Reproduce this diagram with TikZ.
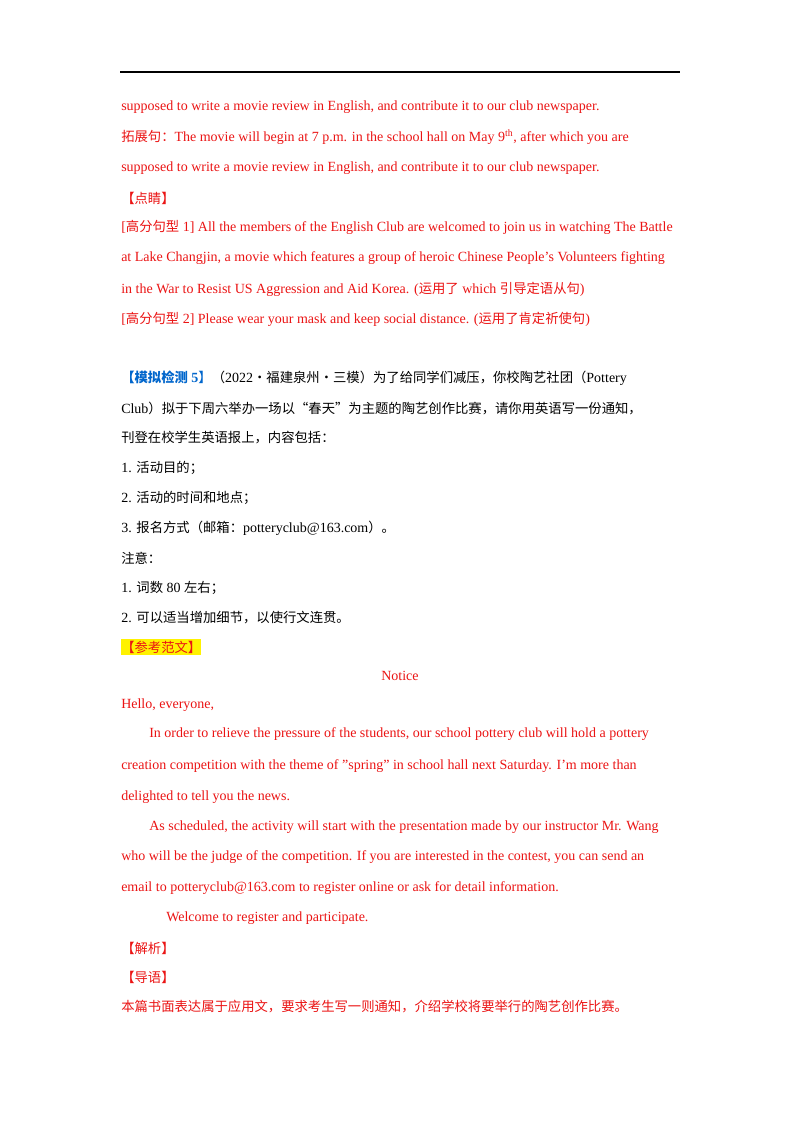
\documentclass[tikz,border=0pt]{standalone}
\usepackage{fontspec}
\setmainfont{Liberation Serif}
\newfontfamily\cjkf{Noto Sans CJK SC}
\newcommand\zh[1]{{\cjkf\fontsize{10pt}{12pt}\selectfont #1}}
\definecolor{txtred}{RGB}{235,20,20}
\definecolor{hdblue}{RGB}{0,102,204}
\begin{document}
\begin{tikzpicture}[x=0.75pt,y=-0.75pt,
  ln/.style={anchor=west,inner sep=0pt,font=\fontsize{10.5pt}{12pt}\selectfont},
  rd/.style={ln,text=txtred}]
\useasboundingbox (0,0) rectangle (800,1132);
\fill[white] (0,0) rectangle (800,1132);
\coordinate (ra) at (120,72); \coordinate (rb) at (680,72);
\draw[line width=0.8pt] (ra) -- (rb);
\node[rd] (t1) at (121,107) {supposed to write a movie review in English, and contribute it to our club newspaper.};
\node[rd] (t2) at (121,137) {\zh{拓展句：}The movie will begin at 7 p.m. in the school hall on May 9\textsuperscript{th}, after which you are};
\node[rd] (t3) at (121,168) {supposed to write a movie review in English, and contribute it to our club newspaper.};
\node[rd] (t4) at (121,198) {\zh{【点睛】}};
\node[rd] (t5) at (121,227) {[\zh{高分句型} 1] All the members of the English Club are welcomed to join us in watching The Battle};
\node[rd] (t6) at (121,258) {at Lake Changjin, a movie which features a group of heroic Chinese People’s Volunteers fighting};
\node[rd] (t7) at (121,289) {in the War to Resist US Aggression and Aid Korea. (\zh{运用了} which \zh{引导定语从句})};
\node[rd] (t8) at (121,319) {[\zh{高分句型} 2] Please wear your mask and keep social distance. (\zh{运用了肯定祈使句})};
\node[ln] (m1) at (121,378) {{\color{hdblue}\zh{\bfseries【模拟检测} \textbf{5}\zh{】}}\zh{（}2022\zh{·福建泉州·三模）为了给同学们减压，你校陶艺社团（}Pottery};
\node[ln] (m2) at (121,408) {Club\zh{）拟于下周六举办一场以“春天”为主题的陶艺创作比赛，请你用英语写一份通知，}};
\node[ln] (m3) at (121,438) {\zh{刊登在校学生英语报上，内容包括：}};
\node[ln] (m4) at (121,468) {1. \zh{活动目的；}};
\node[ln] (m5) at (121,498) {2. \zh{活动的时间和地点；}};
\node[ln] (m6) at (121,528) {3. \zh{报名方式（邮箱：}potteryclub@163.com\zh{）。}};
\node[ln] (m7) at (121,558) {\zh{注意：}};
\node[ln] (m8) at (121,588) {1. \zh{词数} 80 \zh{左右；}};
\node[ln] (m9) at (121,618) {2. \zh{可以适当增加细节，以使行文连贯。}};
\node[rd,fill=yellow,inner ysep=1.5pt] (c0) at (121,647) {\zh{【参考范文】}};
\node[rd,anchor=center] (c1) at (400,676) {Notice};
\node[rd] (c2) at (121,705) {Hello, everyone,};
\node[rd] (c3) at (149,734) {In order to relieve the pressure of the students, our school pottery club will hold a pottery};
\node[rd] (c4) at (121,766) {creation competition with the theme of "spring" in school hall next Saturday. I'm more than};
\node[rd] (c5) at (121,797) {delighted to tell you the news.};
\node[rd] (c6) at (149,827) {As scheduled, the activity will start with the presentation made by our instructor Mr. Wang};
\node[rd] (c7) at (121,857) {who will be the judge of the competition. If you are interested in the contest, you can send an};
\node[rd] (c8) at (121,888) {email to potteryclub@163.com to register online or ask for detail information.};
\node[rd] (c9) at (166,918) {Welcome to register and participate.};
\node[rd] (j1) at (121,948) {\zh{【解析】}};
\node[rd] (j2) at (121,977) {\zh{【导语】}};
\node[rd] (j3) at (121,1007) {\zh{本篇书面表达属于应用文，要求考生写一则通知，介绍学校将要举行的陶艺创作比赛。}};
\end{tikzpicture}
\end{document}
